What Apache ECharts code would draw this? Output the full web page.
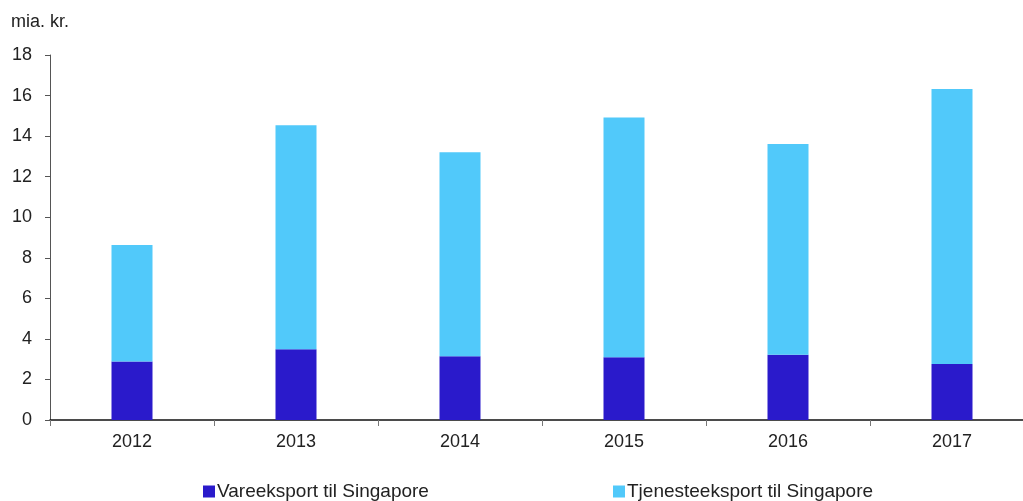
<!DOCTYPE html>
<html>
<head>
<meta charset="utf-8">
<script src="https://cdn.jsdelivr.net/npm/echarts@6/dist/echarts.min.js"></script>
<style>
html, body { margin: 0; padding: 0; background: #fff; overflow: hidden; }
#main { width: 1040px; height: 501px; }
</style>
</head>
<body>
<div id="main"></div>
<script>
// data (mia. kr.)
var years = ['2012', '2013', '2014', '2015', '2016', '2017'];
var vareValues = [2.89, 3.49, 3.14, 3.10, 3.22, 2.76];       // Vareeksport til Singapore
var tjenesteValues = [5.74, 11.04, 10.07, 11.82, 10.39, 13.56]; // Tjenesteeksport til Singapore
var seriesNames = ['Vareeksport til Singapore', 'Tjenesteeksport til Singapore'];
var seriesColors = ['#2a1acb', '#51c9fa'];

var myChart = echarts.init(document.getElementById('main'));

var legendText = { fontSize: 19, color: '#222', fontFamily: 'Liberation Sans Narrow, Liberation Sans, sans-serif', padding: [0, 0, 0, -3] };

myChart.setOption({
    animation: false,
    textStyle: { fontFamily: 'Liberation Sans, Arial, sans-serif' },
    title: {
        text: 'mia. kr.',
        left: 6,
        top: 8,
        textStyle: { fontSize: 18, fontWeight: 'normal', color: '#222' }
    },
    legend: [{
        data: [seriesNames[0]],
        left: 198,
        top: 477,
        itemWidth: 12,
        itemHeight: 12,
        selectedMode: false,
        icon: 'rect',
        textStyle: legendText
    }, {
        data: [seriesNames[1]],
        left: 608,
        top: 477,
        itemWidth: 12,
        itemHeight: 12,
        selectedMode: false,
        icon: 'rect',
        textStyle: legendText
    }],
    grid: {
        left: 50,
        top: 55,
        width: 984,
        height: 365
    },
    xAxis: {
        type: 'category',
        data: years,
        axisLine: { lineStyle: { color: '#111', width: 1.5 } },
        axisTick: { show: true, length: 6, lineStyle: { color: '#777' } },
        axisLabel: { color: '#222', fontSize: 18, margin: 13 }
    },
    yAxis: {
        type: 'value',
        min: 0,
        max: 18,
        interval: 2,
        axisLine: { show: true, lineStyle: { color: '#555' } },
        axisTick: { show: true, length: 5, lineStyle: { color: '#555' } },
        axisLabel: { color: '#222', fontSize: 18, margin: 18 },
        splitLine: { show: false }
    },
    series: [{
        name: seriesNames[0],
        type: 'bar',
        stack: 'total',
        barWidth: '25%',
        itemStyle: { color: seriesColors[0] },
        data: vareValues
    }, {
        name: seriesNames[1],
        type: 'bar',
        stack: 'total',
        barWidth: '25%',
        itemStyle: { color: seriesColors[1] },
        data: tjenesteValues
    }]
});
</script>
</body>
</html>
